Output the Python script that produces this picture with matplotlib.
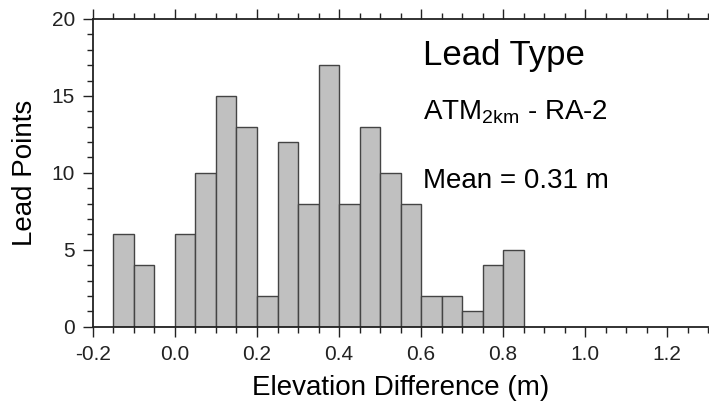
import numpy as np
import matplotlib.pyplot as plt
from matplotlib.ticker import MultipleLocator

# histogram bins (left edges, width 0.05 m) and counts
bin_left = [-0.15, -0.10, -0.05, 0.00, 0.05, 0.10, 0.15, 0.20, 0.25, 0.30,
            0.35, 0.40, 0.45, 0.50, 0.55, 0.60, 0.65, 0.70, 0.75, 0.80]
counts = [6, 4, 0, 6, 10, 15, 13, 2, 12, 8, 17, 8, 13, 10, 8, 2, 2, 1, 4, 5]
bin_width = 0.05

plt.rcParams['font.family'] = ['Liberation Sans', 'DejaVu Sans']

fig = plt.figure(figsize=(7.09, 4.03), dpi=100)
ax = fig.add_axes([0.131, 0.189, 0.868, 0.764])

ax.bar(bin_left, counts, width=bin_width, align='edge',
       color='#c0c0c0', edgecolor='#444444', linewidth=1.0)

ax.set_xlim(-0.2, 1.3)
ax.set_ylim(0, 20)
ax.xaxis.set_major_locator(MultipleLocator(0.2))
ax.xaxis.set_minor_locator(MultipleLocator(0.05))
ax.yaxis.set_major_locator(MultipleLocator(5))
ax.yaxis.set_minor_locator(MultipleLocator(1))
ax.xaxis.set_major_formatter(plt.FuncFormatter(lambda v, p: f'{v:.1f}'))

ax.tick_params(which='both', direction='out', top=True, right=False,
               labelsize=15, colors='#222222', width=1.0)
ax.tick_params(which='major', length=7, pad=6)
ax.tick_params(which='minor', length=4)
ax.tick_params(axis='x', which='both', labeltop=False)
for s in ['left', 'bottom', 'top']:
    ax.spines[s].set_linewidth(1.3)
    ax.spines[s].set_color('#222222')
ax.spines['right'].set_visible(False)

ax.set_xlabel('Elevation Difference (m)', fontsize=20, labelpad=8)
ax.set_ylabel('Lead Points', fontsize=20, labelpad=10)

ax.text(0.537, 0.85, 'Lead Type', transform=ax.transAxes, fontsize=25,
        va='baseline')
ax.text(0.537, 0.675, r'ATM$_{\mathregular{2km}}$ - RA-2', transform=ax.transAxes,
        fontsize=20, va='baseline')
ax.text(0.537, 0.451, 'Mean = 0.31 m', transform=ax.transAxes, fontsize=20,
        va='baseline')

fig.savefig('out.png', dpi=100)
